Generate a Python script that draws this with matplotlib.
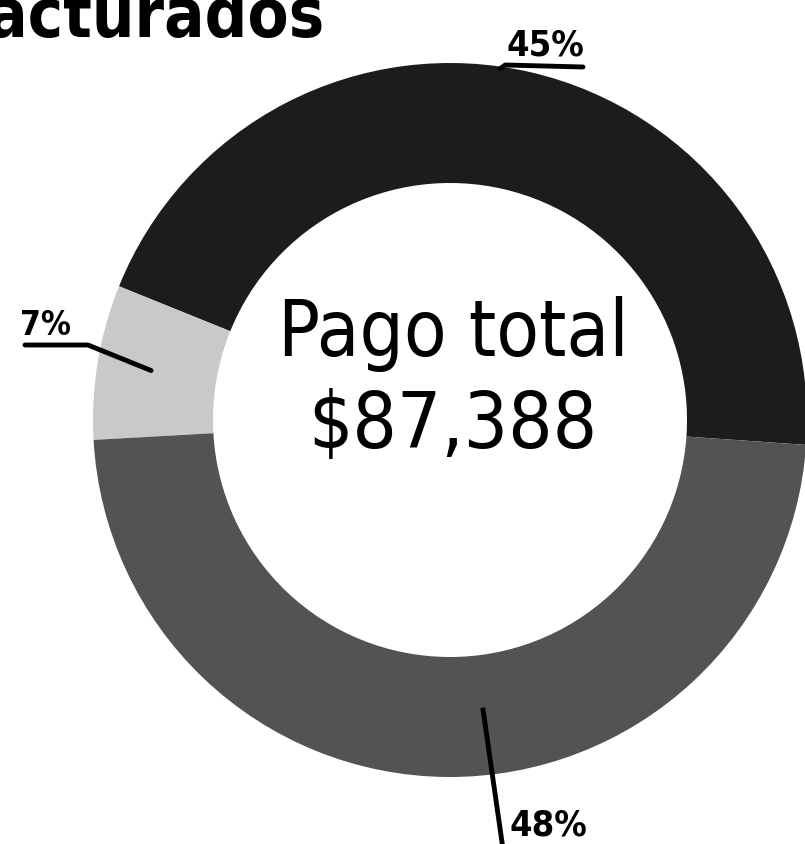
import matplotlib
matplotlib.use('Agg')
import matplotlib.pyplot as plt
import numpy as np

plt.rcParams['font.family'] = ['DejaVu Sans']
plt.rcParams['font.stretch'] = 'condensed'

# Pie data
labels = ['45%', '7%', '48%']
shares = [45, 7, 48]
colors = ['#1c1c1c', '#c9c9c9', '#535353']
title = 'Facturados'
center_text = 'Pago total\n$87,388'

W, H = 805, 844
fig = plt.figure(figsize=(W / 100, H / 100), dpi=100)
ax = fig.add_axes([0, 0, 1, 1])

cx, cy, R = 450, H - 420, 357
wedges, _ = ax.pie(shares, colors=colors, startangle=-4, counterclock=True,
                   center=(cx, cy), radius=R, frame=True,
                   wedgeprops=dict(width=120, linewidth=0))
ax.set_xlim(0, W)
ax.set_ylim(0, H)
ax.set_aspect('equal')
ax.axis('off')

def pt(w, r, frac=0.5):
    a = np.deg2rad(w.theta1 + frac * (w.theta2 - w.theta1))
    return cx + r * np.cos(a), cy + r * np.sin(a)

# 45% label, top
x0, y0 = pt(wedges[0], R - 2, 0.53)
ax.plot([x0, x0 + 5, 583], [y0, H - 65, H - 67], color='black', lw=3.5,
        solid_capstyle='round')
ax.text(545, H - 55, labels[0], ha='center', va='baseline', fontsize=26,
        fontweight='bold')

# 7% label, left
x1, y1 = pt(wedges[1], 303)
ax.plot([25, 88, x1], [H - 345, H - 345, y1], color='black', lw=3.5,
        solid_capstyle='round')
ax.text(45, H - 335, labels[1], ha='center', va='baseline', fontsize=24,
        fontweight='bold')

# 48% label, bottom
x2, y2 = pt(wedges[2], 292, 0.54)
ax.plot([x2, x2 + 20, 600], [y2, H - 850, H - 850], color='black', lw=3.5)
ax.text(548, H - 836, labels[2], ha='center', va='baseline', fontsize=26,
        fontweight='bold')

ax.text(325, H - 37, title, ha='right', va='baseline', fontsize=48,
        fontweight='bold')
ax.text(453, H - 380, center_text, ha='center', va='center', fontsize=56,
        linespacing=1.26)

fig.savefig('out.png', dpi=100, facecolor='white')
